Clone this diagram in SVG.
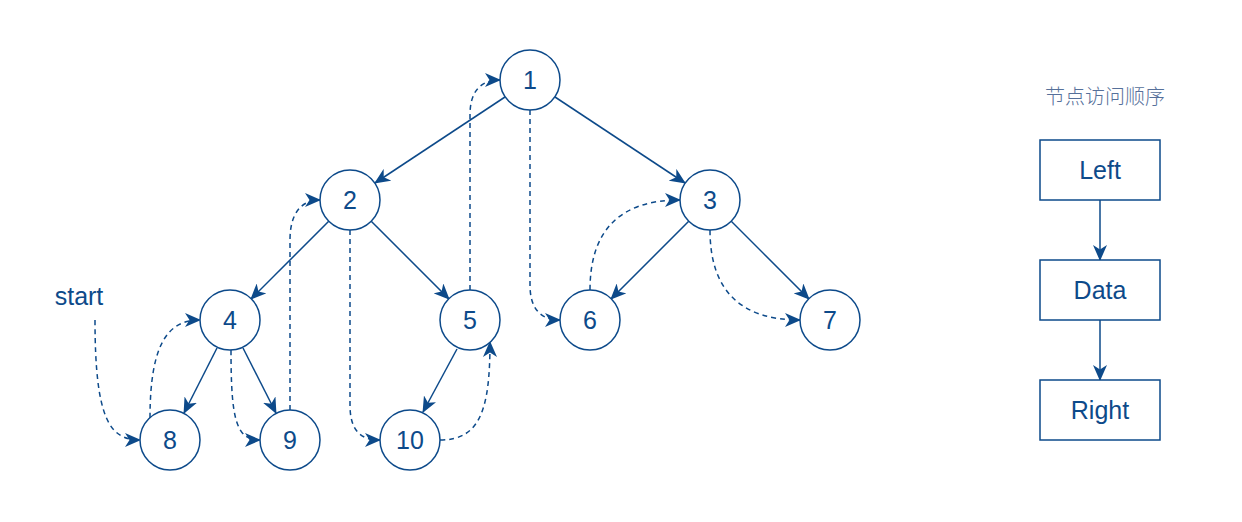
<svg xmlns="http://www.w3.org/2000/svg" width="1242" height="522" viewBox="0 0 1242 522">
<style>
.n{fill:#fff;stroke:#0d4a8a;stroke-width:1.5}
.t{font-family:"Liberation Sans",Arial,sans-serif;font-size:25px;fill:#0d4a8a;text-anchor:middle}
.e{fill:none;stroke:#0d4a8a;stroke-width:1.5;marker-end:url(#a)}
.d{stroke-dasharray:5 4}
.title{font-family:"Noto Sans CJK SC",sans-serif;font-size:20px;font-weight:300;fill:#56709a;text-anchor:middle}
</style>
<defs>
<marker id="a" markerUnits="userSpaceOnUse" markerWidth="16" markerHeight="14" viewBox="0 0 16 14" refX="15" refY="7" orient="auto">
<path d="M0,0 L16,7 L0,14 L4.5,7 Z" fill="#0d4a8a"/>
</marker>
</defs>
<rect width="1242" height="522" fill="#fff"/>
<g id="connectors">
<path class="e" d="M505,97 L375,183"/>
<path class="e" d="M555,97 L685,183"/>
<path class="e" d="M329,221 L251,299"/>
<path class="e" d="M371,221 L449,299"/>
<path class="e" d="M689,221 L611,299"/>
<path class="e" d="M731,221 L809,299"/>
<path class="e" d="M217,348 L184,413"/>
<path class="e" d="M243,348 L276,413"/>
<path class="e" d="M457,349 L423,412"/>
<path class="e d" d="M95,320 C95,420 110,440 140,440"/>
<path class="e d" d="M150,418 C150,340 170,320 200,320"/>
<path class="e d" d="M231,350 C231,420 236,440 260,440"/>
<path class="e d" d="M290,410 L290,240 C290,215 300,200 320,200"/>
<path class="e d" d="M350,230 L350,405 C350,430 360,440 380,440"/>
<path class="e d" d="M440,440 C480,440 490,410 490,342"/>
<path class="e d" d="M470,290 L470,115 C470,92 480,80 500,80"/>
<path class="e d" d="M530,110 L530,285 C530,308 540,320 560,320"/>
<path class="e d" d="M590,290 C590,230 620,200 680,200"/>
<path class="e d" d="M710,230 C710,290 740,320 800,320"/>
<path class="e" d="M1100,200 L1100,260"/>
<path class="e" d="M1100,320 L1100,380"/>
</g>
<g id="n1"><circle class="n" cx="530" cy="80" r="30"/><text class="t" x="530" y="89">1</text></g>
<g id="n2"><circle class="n" cx="350" cy="200" r="30"/><text class="t" x="350" y="209">2</text></g>
<g id="n3"><circle class="n" cx="710" cy="200" r="30"/><text class="t" x="710" y="209">3</text></g>
<g id="n4"><circle class="n" cx="230" cy="320" r="30"/><text class="t" x="230" y="329">4</text></g>
<g id="n5"><circle class="n" cx="470" cy="320" r="30"/><text class="t" x="470" y="329">5</text></g>
<g id="n6"><circle class="n" cx="590" cy="320" r="30"/><text class="t" x="590" y="329">6</text></g>
<g id="n7"><circle class="n" cx="830" cy="320" r="30"/><text class="t" x="830" y="329">7</text></g>
<g id="n8"><circle class="n" cx="170" cy="440" r="30"/><text class="t" x="170" y="449">8</text></g>
<g id="n9"><circle class="n" cx="290" cy="440" r="30"/><text class="t" x="290" y="449">9</text></g>
<g id="n10"><circle class="n" cx="410" cy="440" r="30"/><text class="t" x="410" y="449">10</text></g>
<g id="start"><text class="t" x="79" y="305">start</text></g>
<g id="title"><text class="title" x="1105" y="104">节点访问顺序</text></g>
<g id="left"><rect class="n" x="1040" y="140" width="120" height="60"/><text class="t" x="1100" y="179">Left</text></g>
<g id="data"><rect class="n" x="1040" y="260" width="120" height="60"/><text class="t" x="1100" y="299">Data</text></g>
<g id="right"><rect class="n" x="1040" y="380" width="120" height="60"/><text class="t" x="1100" y="419">Right</text></g>
</svg>
